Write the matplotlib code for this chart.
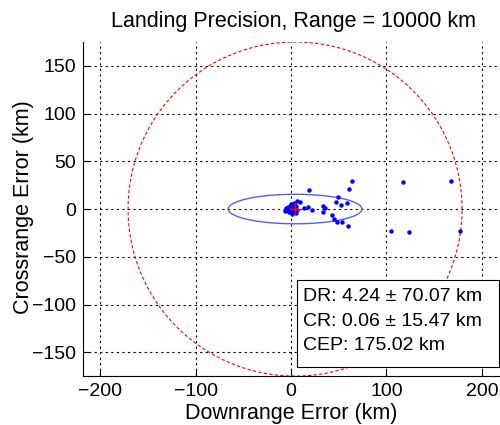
import numpy as np
import matplotlib.pyplot as plt
from matplotlib.patches import Rectangle

plt.rcParams['font.family'] = ['Liberation Sans', 'DejaVu Sans']

# landing points (downrange, crossrange), km
dr_pts = [-5, -4, -3, -2, -1, 0, 0, 1, 2, 2, 3, 4, 5, -2, 1, 3, 6, -6, 0, 2,
          5.2, 6.6, 9.4, 13.9, 17.5, 22.3, 33.8, 35.3, 33.8, 18.8,
          47.1, 48.9, 52.4, 58.3, 60.7, 64.2, 42.9, 45.0, 47.9, 53.7, 59.7,
          104.7, 117.3, 123.9, 167.5, 177.3]
cr_pts = [1, -1, 2, 0, 3, -1, 2, 0, -3, 4, 1, -2, 3, -3, -5, 6, -1, -2, 5, 1,
          -4.5, 8.7, 7.7, 1.4, 2.4, -1.0, 3.1, 0.7, -2.8, 19.9,
          7.0, 12.6, 4.2, 6.0, 20.7, 29.4, -6.6, -10.8, -14.0, -13.6, -18.2,
          -23.1, 28.0, -24.1, 29.4, -23.1]

# summary statistics
dr_mean, dr_std = 4.24, 70.07
cr_mean, cr_std = 0.06, 15.47
cep = 175.02

fig = plt.figure(figsize=(5, 4.25), dpi=100)
ax = fig.add_axes([0.166, 0.115, 0.834, 0.786])

th = np.linspace(0, 2 * np.pi, 400)
# CEP circle
ax.plot(dr_mean + cep * np.cos(th), cr_mean + cep * np.sin(th),
        color='red', linestyle='--', linewidth=0.8, dashes=(3, 2))
# 1-sigma ellipse
ax.plot(dr_mean + dr_std * np.cos(th), cr_mean + cr_std * np.sin(th),
        color='#5b5bff', linewidth=1.0)
ax.plot(dr_pts, cr_pts, 'o', color='blue', markersize=3.2, markeredgewidth=0)
ax.plot(dr_mean, cr_mean, '+', color='red', markersize=8, markeredgewidth=1.0)

ax.set_xlim(-218, 219)
ax.set_ylim(-175, 175)
ax.set_xticks([-200, -100, 0, 100, 200])
ax.set_yticks(np.arange(-150, 151, 50))
ax.grid(True, color='black', linestyle=(0, (2, 3)), linewidth=0.8)
ax.tick_params(direction='in', length=4, labelsize=14, pad=5)
for s in ['top', 'right']:
    ax.spines[s].set_visible(False)

ax.set_title('Landing Precision, Range = 10000 km', fontsize=15.5, x=0.505, pad=11)
ax.set_xlabel('Downrange Error (km)', fontsize=15.5)
ax.set_ylabel('Crossrange Error (km)', fontsize=15.5)
ax.xaxis.set_label_coords(0.5, -0.129)
ax.xaxis.label.set_va('baseline')
ax.yaxis.set_label_coords(-0.118, 0.505)

# stats box
ax.add_patch(Rectangle((0.513, 0.027), 0.485, 0.26, transform=ax.transAxes,
                       facecolor='white', edgecolor='black', linewidth=0.8,
                       zorder=5))
lines = ['DR: %.2f \u00b1 %.2f km' % (dr_mean, dr_std),
         'CR: %.2f \u00b1 %.2f km' % (cr_mean, cr_std),
         'CEP: %.2f km' % cep]
for k, s in enumerate(lines):
    ax.text(0.527, 0.237 - 0.072 * k, s, transform=ax.transAxes,
            fontsize=14, va='center', ha='left', zorder=6)

fig.savefig('out.png', dpi=100)
